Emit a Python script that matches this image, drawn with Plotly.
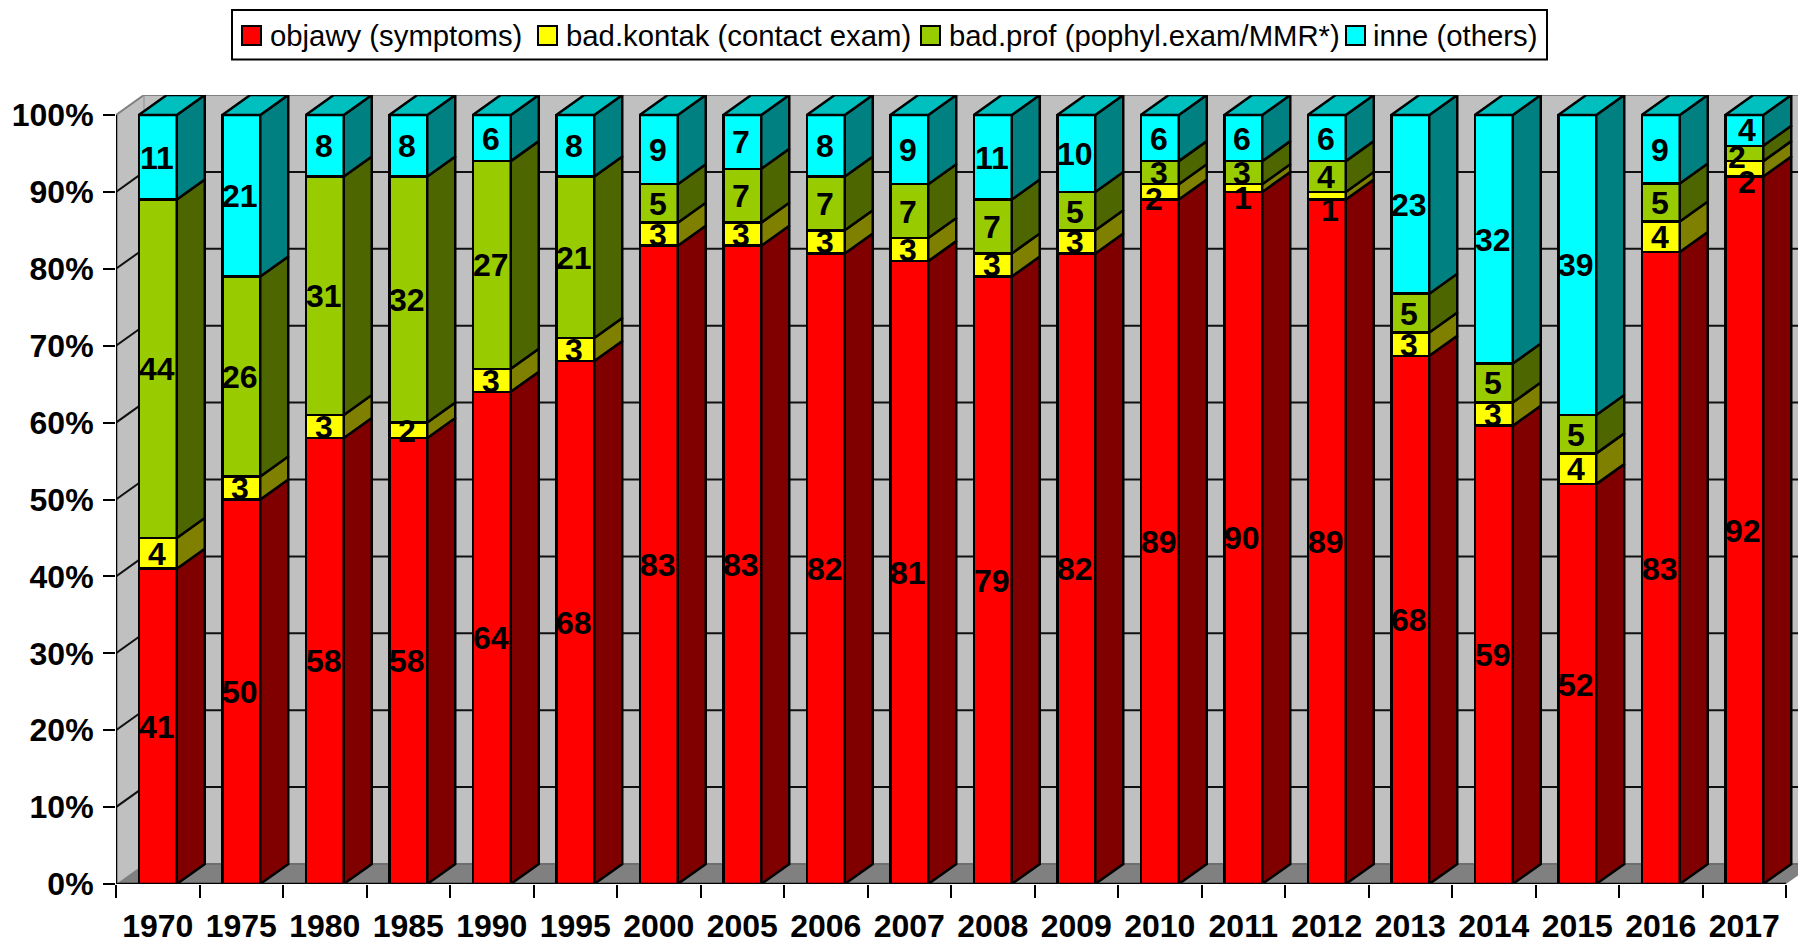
import numpy as np
import plotly.graph_objects as go

years = ["1970","1975","1980","1985","1990","1995","2000","2005","2006","2007",
         "2008","2009","2010","2011","2012","2013","2014","2015","2016","2017"]
objawy = [41,50,58,58,64,68,83,83,82,81,79,82,89,90,89,68,59,52,83,92]
kontakt = [4,3,3,2,3,3,3,3,3,3,3,3,2,1,1,3,3,4,4,2]
prof = [44,26,31,32,27,21,5,7,7,7,7,5,3,3,4,5,5,5,5,2]
inne = [11,21,8,8,6,8,9,7,8,9,11,10,6,6,6,23,32,39,9,4]

names = ["objawy (symptoms)", "bad.kontak (contact exam)",
         "bad.prof (pophyl.exam/MMR*)", "inne (others)"]
series = [objawy, kontakt, prof, inne]
front = ["#FF0000", "#FFFF00", "#99CC00", "#00FFFF"]
side = ["#800000", "#808000", "#4D6600", "#008080"]
top_col = "#00BFBF"
legend_left_px = [230, 526, 909, 1333]
swatch_left_px = [242, 538, 921, 1346]

W, H = 1798, 939
L, R_END, Y0, Y100 = 116, 1786, 884, 115
TOP = 95
cat_px = (R_END - L) / 20
val_px = (Y0 - Y100) / 100
dx = 28 / cat_px
dy = 20 / val_px
bw = 38 / cat_px
x = np.arange(20)
x0, x1 = -0.5, 19.5
xr = (x0, x0 + (W - L) / cat_px)
yr = (0, 100 + (Y100 - TOP) / val_px)

vals = np.array(series, dtype=float)
pct = vals / vals.sum(axis=0) * 100
cum = np.vstack([np.zeros(20), np.cumsum(pct, axis=0)])

fig = go.Figure()
legend_ids = ["legend", "legend2", "legend3", "legend4"]
for i, n in enumerate(names):
    fig.add_trace(go.Bar(x=x, y=series[i], name=n, width=bw, legendgroup=n,
                         showlegend=False,
                         marker=dict(color=front[i], line=dict(color="black", width=2.5)),
                         hoverinfo="skip"))
# legend entries: same colour, no outline, so they sit cleanly inside the outlined swatch
for i, n in enumerate(names):
    fig.add_trace(go.Bar(x=[0], y=[0], name=n, width=bw, legendgroup=n, legend=legend_ids[i],
                         showlegend=True,
                         marker=dict(color=front[i], line=dict(color=front[i], width=0)),
                         hoverinfo="skip"))


def poly_trace(polys, color):
    xs, ys = [], []
    for p in polys:
        for a, b in p + [p[0]]:
            xs.append(a)
            ys.append(b)
        xs.append(None)
        ys.append(None)
    return go.Scatter(x=xs, y=ys, mode="lines", fill="toself", fillcolor=color,
                      line=dict(color="black", width=2.5), showlegend=False, hoverinfo="skip")


for i in range(4):
    polys = []
    for j in range(20):
        r = x[j] + bw / 2
        lo, up = cum[i, j], cum[i + 1, j]
        polys.append([(r, lo), (r + dx, lo + dy), (r + dx, up + dy), (r, up)])
    fig.add_trace(poly_trace(polys, side[i]))
tops = []
for j in range(20):
    l, r = x[j] - bw / 2, x[j] + bw / 2
    tops.append([(l, 100), (l + dx, 100 + dy), (r + dx, 100 + dy), (r, 100)])
fig.add_trace(poly_trace(tops, top_col))

shapes = []


def path(pts):
    return "M" + "L".join(f"{a},{b}" for a, b in pts) + "Z"


def poly(pts, color, lw=0, lc="#808080"):
    shapes.append(dict(type="path", path=path(pts), fillcolor=color, layer="below",
                       line=dict(width=lw, color=lc), xref="x", yref="y"))


def seg(a, b, c, d, color="black", w=2, layer="below"):
    shapes.append(dict(type="line", x0=a, y0=b, x1=c, y1=d, xref="x", yref="y", layer=layer,
                       line=dict(color=color, width=w)))


poly([(x0 + dx, dy), (x1 + dx, dy), (x1 + dx, 100 + dy), (x0 + dx, 100 + dy)], "#C0C0C0")
poly([(x0, 0), (x0 + dx, dy), (x0 + dx, 100 + dy), (x0, 100)], "#C0C0C0")
poly([(x0, 0), (x0 + dx, dy), (x1 + dx, dy), (x1, 0)], "#808080")
seg(x0 + dx, 100 + dy, x1 + dx, 100 + dy, "#808080", 2)
seg(x0, 100, x0 + dx, 100 + dy, "#808080", 2)
seg(x0 + dx, dy, x0 + dx, 100 + dy, "#909090", 1)
seg(x0 + dx, dy, x1 + dx, dy, "#6E6E6E", 2)
for v in range(10, 100, 10):
    seg(x0, v, x0 + dx, v + dy, "#101010", 2)
    seg(x0 + dx, v + dy, x1 + dx, v + dy, "#101010", 2)
seg(x0, 0, x0, 100, "black", 2.5, "above")
seg(x0, 0, x1, 0, "black", 2.5, "above")


def px_x(p):
    return (p - L) / (W - L)


def px_y(p):
    return (Y0 - p) / (Y0 - TOP)


# legend frame and enlarged swatches around the four single-entry legends
shapes.append(dict(type="rect", xref="paper", yref="paper",
                   x0=px_x(232), x1=px_x(1547), y0=px_y(59.5), y1=px_y(10),
                   line=dict(color="black", width=2), fillcolor="rgba(0,0,0,0)", layer="above"))
for i, p in enumerate(swatch_left_px):
    shapes.append(dict(type="rect", xref="paper", yref="paper",
                       x0=px_x(p), x1=px_x(p + 19), y0=px_y(45), y1=px_y(26),
                       line=dict(color="black", width=2), fillcolor=front[i], layer="above"))

# labels: centred on each front segment; a few were moved by hand in the original
nudge = {(1, 12): (-6, 7), (1, 13): (0, 10), (1, 14): (3, 14), (1, 19): (3, 13),
         (2, 19): (-7, 4), (3, 19): (3, 0)}
ann = []
for i in range(4):
    for j in range(20):
        sx, sy = nudge.get((i, j), (-1, 0.5))
        ann.append(dict(x=x[j], y=(cum[i, j] + cum[i + 1, j]) / 2, text=str(series[i][j]),
                        showarrow=False, xanchor="center", yanchor="middle",
                        xshift=sx, yshift=-sy,
                        font=dict(family="Liberation Sans", size=32, color="black", weight="bold")))

legend_style = {}
for lid, px in zip(legend_ids, legend_left_px):
    legend_style[lid] = dict(orientation="h", xref="paper", yref="paper",
                             x=px_x(px), xanchor="left",
                             y=px_y(9.5), yanchor="top",
                             bgcolor="rgba(0,0,0,0)", borderwidth=0,
                             font=dict(family="Liberation Sans", size=29.3, color="black"))

fig.update_layout(
    width=W, height=H, barmode="stack", barnorm="percent",
    margin=dict(l=L, r=0, t=TOP, b=H - Y0, pad=0, autoexpand=False),
    paper_bgcolor="white", plot_bgcolor="white",
    shapes=shapes, annotations=ann, hovermode=False,
    font=dict(family="Liberation Sans", color="black"),
    xaxis=dict(range=list(xr), tickmode="array", tickvals=list(x), ticktext=years,
               ticks="", showgrid=False, zeroline=False, showline=False,
               ticklabelstandoff=20,
               tickfont=dict(size=32, family="Liberation Sans", weight="bold", color="black"),
               minor=dict(tickmode="array", tickvals=[x0 + k for k in range(21)],
                          ticks="outside", ticklen=13, tickwidth=2, tickcolor="black",
                          showgrid=False)),
    yaxis=dict(range=list(yr), tickmode="array", tickvals=list(range(0, 101, 10)),
               ticktext=[f"{v}%" for v in range(0, 101, 10)],
               ticks="outside", ticklen=12, tickwidth=2, tickcolor="black",
               showgrid=False, zeroline=False, showline=False,
               ticklabelstandoff=3,
               tickfont=dict(size=32, family="Liberation Sans", weight="bold", color="black")),
    **legend_style,
)

fig.write_html("out.html", config={"displayModeBar": False},
               post_script="document.body.style.margin='0';document.body.style.overflow='hidden';")
